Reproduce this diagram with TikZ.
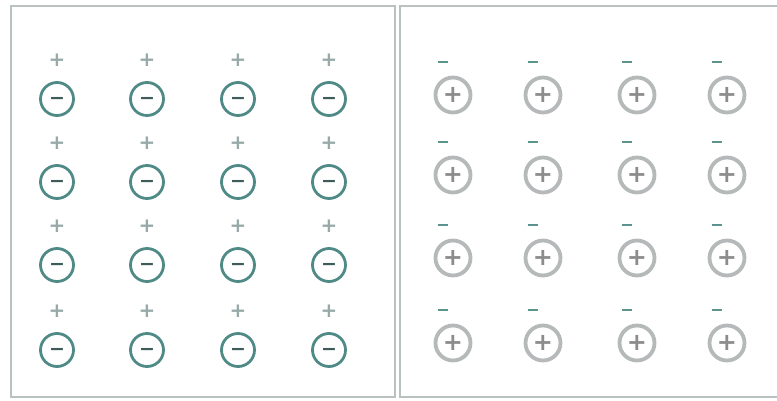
\documentclass[tikz,border=0pt]{standalone}
\usepackage{fontspec}
\newfontfamily\signfont{DejaVu Sans}
\usepackage{xcolor}
\definecolor{ionteal}{HTML}{4F8A86}
\definecolor{signdark}{HTML}{3E5C5A}
\definecolor{signgray}{HTML}{97A9A9}
\definecolor{ringgray}{HTML}{B6B9B9}
\definecolor{framegray}{HTML}{B9C1C1}
\usepackage{tikz}
\usetikzlibrary{positioning}

\begin{document}
\begin{tikzpicture}[
    x=1pt, y=-1pt,
    node distance=14pt,
    anion/.style={circle, draw=ionteal, line width=2.8pt, minimum size=33pt, inner sep=0pt, text=signdark, font=\signfont\bfseries\fontsize{19}{19}\selectfont},
    cation/.style={circle, draw=ringgray, line width=3.8pt, minimum size=35pt, inner sep=0pt, text=gray!90, font=\signfont\bfseries\fontsize{24}{24}\selectfont},
    pluslabel/.style={inner sep=0pt, text=signgray, font=\signfont\bfseries\fontsize{20}{20}\selectfont},
    dashlabel/.style={inner sep=0pt, text=ionteal, font=\signfont\bfseries\fontsize{16}{16}\selectfont},
    panel/.style={draw=framegray, line width=2pt},
]
    \useasboundingbox (0,0) rectangle (777,401);
    % two panels
    \draw[panel] (11,6) rectangle (395,397);
    \draw[panel] (400,6) rectangle (778,397);

    % left panel: negative ions with positive charges above
    \foreach \x [count=\i] in {57,147,238,329}
        \foreach \y [count=\j] in {99,182,265,350}{
            \node[anion] (a\j\i) at (\x,\y) {\vphantom{+}−};
            \node[pluslabel, above=of a\j\i] (p\j\i) {+};
        }

    % right panel: positive ions with negative charges above
    \foreach \x [count=\i] in {453,543,637,727}
        \foreach \y [count=\j] in {95,175,258,343}{
            \node[cation] (c\j\i) at (\x,\y) {+};
            \node[dashlabel, above=8pt of c\j\i, xshift=-10pt] (m\j\i) {−};
        }
\end{tikzpicture}
\end{document}
